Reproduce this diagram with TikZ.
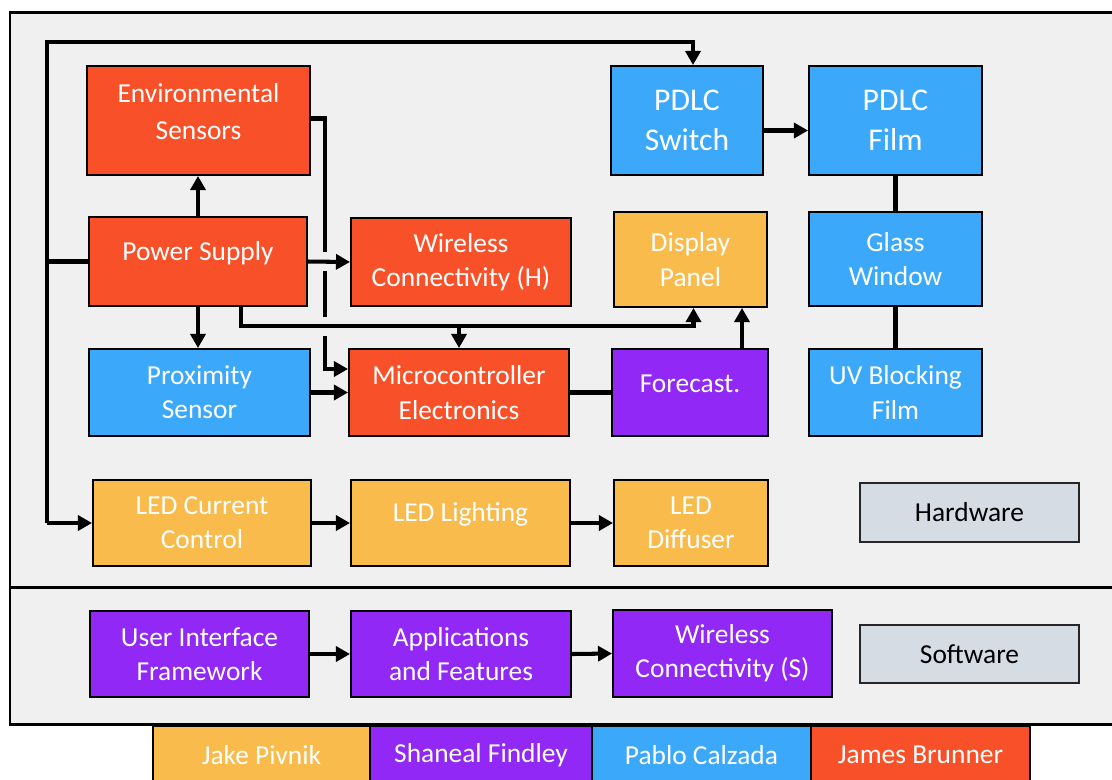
\documentclass[tikz,border=0pt]{standalone}
\usepackage{fontspec}
\setmainfont{Carlito}
\usetikzlibrary{arrows.meta,calc}
\definecolor{cor}{HTML}{F85129}
\definecolor{cbl}{HTML}{3CA8FA}
\definecolor{cpu}{HTML}{9128F5}
\definecolor{cye}{HTML}{F9BB4B}
\definecolor{cgr}{HTML}{D6DCE4}
\definecolor{cbg}{HTML}{F0F0F0}
\newcommand\upl[2][5pt]{\raisebox{#1}[\height][\depth]{#2}}
\newcommand\bx[7]{\node[#6, minimum width={(#4-#2)*0.02cm}, minimum height={(#5-#3)*0.02cm}] (#1) at ({(#2+#4)/2},{(#3+#5)/2}) {#7};}
\begin{document}
\begin{tikzpicture}[x=0.02cm,y=-0.02cm,
  blk/.style={draw=black,line width=1.1pt,text=white,align=center,inner sep=0pt,font=\fontsize{15.6}{19.5}\selectfont},
  orb/.style={blk,fill=cor},
  blb/.style={blk,fill=cbl},
  pub/.style={blk,fill=cpu},
  yeb/.style={blk,fill=cye},
  big/.style={font=\fontsize{18}{22.7}\selectfont},
  grb/.style={blk,fill=cgr,text=black,draw=black!85},
  frame/.style={draw=black,line width=1.7pt,fill=cbg},
  ln/.style={draw=black,line width=2.3pt,line join=miter},
  arr/.style={ln,-{Triangle[length=8pt,width=8.5pt]}},
  leg/.style={text=white,font=\fontsize{15.6}{19.5}\selectfont}
]
\useasboundingbox (0,0) rectangle (1112,779);
% frames
\path[frame] (10,12) rectangle (1125,587);
\path[frame] (10,587) rectangle (1125,724);
% legend
\path[draw=black,line width=1.1pt,fill=cye] (153,726) rectangle (370,800);
\path[draw=black,line width=1.1pt,fill=cpu] (370,726) rectangle (592,800);
\path[draw=black,line width=1.1pt,fill=cbl] (592,726) rectangle (811,800);
\path[draw=black,line width=1.1pt,fill=cor] (811,726) rectangle (1030,800);
\node[leg] (lj) at (261.5,755) {Jake Pivnik};
\node[leg] (ls) at (481,755) {Shaneal Findley};
\node[leg] (lp) at (701.5,755) {Pablo Calzada};
\node[leg] (lb) at (920.5,755) {James Brunner};
% boxes
\bx{env}{87}{66}{310}{175}{orb}{\upl[4pt]{\renewcommand\arraystretch{1.1}\begin{tabular}{@{}c@{}}Environmental\\Sensors\end{tabular}}}
\bx{ps}{89}{217}{307}{306}{orb}{\upl{Power Supply}}
\bx{wch}{351}{218}{571}{306}{orb}{Wireless\\Connectivity (H)}
\bx{prox}{89}{349}{310}{436}{blb}{Proximity\\Sensor}
\bx{mc}{349}{349}{569}{436}{orb}{Microcontroller\\Electronics}
\bx{fc}{612}{349}{768}{436}{pub}{\upl{Forecast.}}
\bx{dp}{614}{212}{767}{307}{yeb}{Display\\Panel}
\bx{pdlcs}{611}{66}{763}{175}{blb,big}{PDLC\\Switch}
\bx{pdlcf}{809}{66}{982}{175}{blb,big}{PDLC\\Film}
\bx{gw}{809}{212}{982}{306}{blb}{Glass\\Window}
\bx{uv}{809}{349}{982}{436}{blb}{UV Blocking\\Film}
\bx{ledcc}{93}{480}{311}{566}{yeb}{LED Current\\Control}
\bx{ledl}{351}{480}{570}{566}{yeb}{\upl{LED Lighting}}
\bx{ledd}{614}{480}{768}{566}{yeb}{LED\\Diffuser}
\bx{hw}{860}{483}{1079}{542}{grb}{Hardware}
\bx{ui}{90}{611}{309}{697}{pub}{User Interface\\Framework}
\bx{app}{351}{611}{571}{697}{pub}{Applications\\and Features}
\bx{wcs}{613}{610}{832}{697}{pub}{Wireless\\Connectivity (S)}
\bx{sw}{860}{625}{1079}{683}{grb}{Software}
% coordinates
\coordinate (tl) at (47,42);
\coordinate (h) at (0,326);
\coordinate (vx) at (325,0);
\coordinate (g1a) at (325,252);
\coordinate (g1b) at (325,271);
\coordinate (g2a) at (325,317);
\coordinate (g2b) at (325,336);
\coordinate (mcin) at (0,369);
\path (ps.south) ++(43,0) coordinate (ps1);
\path (fc.north) ++(52,0) coordinate (fc1);
\path (pdlcs.north) ++(6,0) coordinate (pst);
\path (dp.south) ++(3,0) coordinate (dps);
\path (env.east) ++(0,-2) coordinate (enve);
% connectors
\draw[arr] (tl |- ledcc.west) -- (tl) -- (tl -| pst) -- (pst);
\draw[arr] (tl |- ledcc.west) -- (ledcc.west);
\draw[ln] (ps.west) -- (ps.west -| tl);
\draw[arr] (ps.north) -- (ps.north |- env.south);
\draw[arr] (ps.south) -- (ps.south |- prox.north);
\draw[arr] (ps.east) -- (wch.west);
\draw[arr] (ps1) -- (ps1 |- h) -- (h -| dps) -- (dps);
\draw[arr] (h -| mc.north) -- (mc.north);
\draw[ln] (enve) -- (enve -| vx) -- (g1a);
\draw[ln] (g1b) -- (g2a);
\draw[arr] (g2b) -- (vx |- mcin) -- (mc.west |- mcin);
\draw[ln] (mc.east) -- (fc.west);
\draw[arr] (fc1) -- (fc1 |- dp.south);
\draw[arr] (prox.east) -- (mc.west);
\draw[arr] ([yshift=-10*0.02cm]pdlcs.east) -- ([yshift=-10*0.02cm]pdlcf.west);
\draw[ln] (pdlcf.south) -- (gw.north);
\draw[ln] (gw.south) -- (uv.north);
\draw[arr] (ledcc.east) -- (ledl.west);
\draw[arr] (ledl.east) -- (ledd.west);
\draw[arr] (ui.east) -- (app.west);
\draw[arr] (app.east) -- (wcs.west);
\end{tikzpicture}
\end{document}
